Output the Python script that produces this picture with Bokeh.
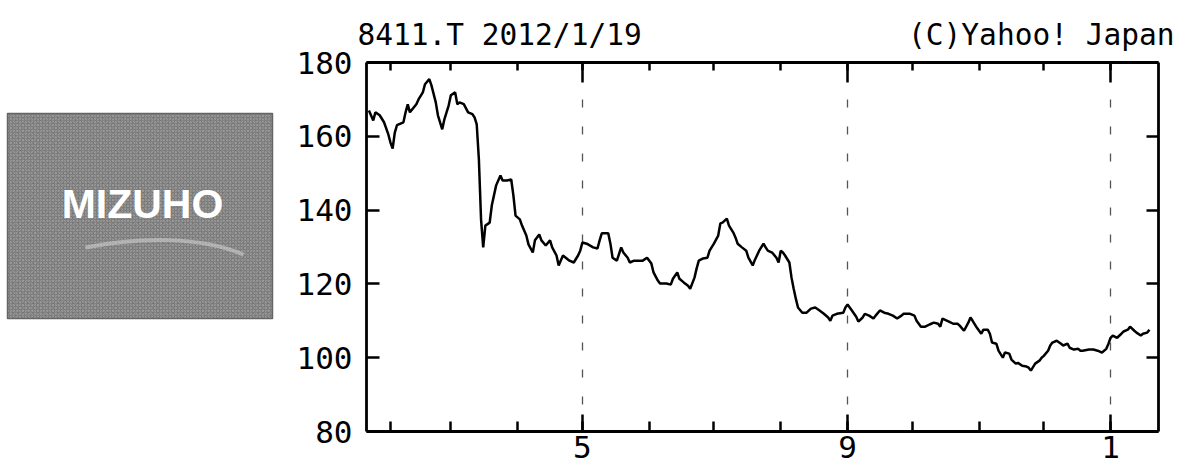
import pandas as pd
from bokeh.plotting import figure
from bokeh.models import (Range1d, FixedTicker, LinearAxis, Title, ColumnDataSource,
                          CustomLabelingPolicy)
from bokeh.layouts import row
from bokeh.embed import file_html
from bokeh.resources import INLINE
from bokeh.core.properties import value

# ---------------- data ----------------
ticker_symbol = "8411.T"
as_of = "2012/1/19"
credit = "(C)Yahoo! Japan"
logo_text = "MIZUHO"
start_date = "2011-01-19"

day_offsets = [
    3, 5, 6, 8, 10, 12, 13, 14, 15, 16, 19, 20, 21, 22, 25, 26, 28, 29, 31, 32,
    34, 35, 36, 37, 38, 40, 41, 43, 44, 45, 47, 49, 51, 52, 53, 54, 55, 56, 57, 59,
    60, 62, 64, 65, 67, 69, 70, 71, 73, 74, 76, 77, 79, 80, 82, 83, 85, 87, 88, 90,
    91, 93, 96, 98, 100, 101, 102, 104, 107, 109, 110, 111, 114, 115, 116, 118, 120, 121, 123, 124,
    126, 128, 130, 132, 134, 135, 137, 138, 141, 143, 144, 146, 147, 149, 151, 152, 154, 155, 156, 158,
    160, 161, 163, 165, 166, 167, 169, 170, 172, 173, 174, 176, 178, 179, 181, 182, 184, 186, 187, 188,
    190, 192, 193, 194, 195, 196, 198, 199, 200, 201, 202, 204, 206, 208, 210, 212, 214, 216, 217, 218,
    220, 223, 224, 225, 227, 229, 230, 232, 233, 235, 237, 238, 240, 242, 244, 246, 248, 250, 251, 254,
    256, 257, 259, 261, 263, 265, 267, 268, 269, 272, 274, 276, 277, 279, 281, 282, 283, 285, 287, 288,
    290, 291, 292, 294, 295, 297, 298, 300, 301, 303, 304, 306, 308, 309, 310, 312, 314, 315, 316, 318,
    319, 320, 322, 324, 325, 327, 328, 330, 332, 333, 334, 337, 339, 341, 343, 345, 346, 347, 348, 350,
    352, 353, 355, 356, 358, 359, 361, 362, 364, 365,
]

close_prices = [
    167.0, 164.3, 166.5, 165.7, 163.8, 160.5, 158.3, 156.7, 161.0, 163.0, 163.8, 166.5, 168.7, 166.5, 168.7, 170.0, 171.9, 174.1, 175.5, 173.8,
    169.2, 165.7, 163.8, 161.9, 164.6, 168.4, 171.1, 171.9, 168.7, 169.2, 168.7, 166.5, 166.0, 165.1, 163.2, 153.7, 137.5, 129.9, 135.8, 136.6,
    141.3, 146.7, 149.4, 148.0, 148.0, 148.3, 144.0, 138.5, 137.5, 135.8, 133.1, 130.7, 128.5, 131.8, 133.4, 131.8, 130.4, 131.8, 129.9, 127.7,
    125.0, 127.7, 126.3, 125.8, 127.7, 129.0, 131.2, 130.9, 129.9, 129.6, 131.8, 133.7, 133.7, 130.9, 127.1, 126.3, 129.9, 128.5, 127.1, 125.8,
    126.3, 126.3, 126.3, 127.1, 125.5, 123.1, 120.9, 120.1, 120.1, 119.8, 121.4, 123.1, 121.4, 120.4, 119.5, 118.7, 121.7, 124.2, 126.3, 126.9,
    127.1, 129.0, 130.9, 133.1, 136.4, 136.6, 137.7, 135.8, 133.9, 132.6, 130.9, 129.9, 129.0, 127.1, 125.0, 126.5, 129.0, 130.9, 129.9, 129.0,
    128.5, 127.1, 125.8, 129.0, 128.5, 127.7, 125.8, 121.7, 118.7, 116.0, 113.6, 112.2, 112.2, 113.3, 113.6, 112.8, 111.9, 110.9, 110.0, 111.4,
    111.9, 112.2, 113.6, 114.4, 112.8, 111.1, 109.8, 110.9, 111.9, 111.4, 110.6, 111.4, 112.8, 112.2, 111.9, 111.4, 110.6, 111.4, 111.9, 111.9,
    111.4, 110.0, 108.4, 108.4, 109.0, 109.5, 109.2, 108.4, 110.6, 109.8, 109.2, 109.2, 108.7, 107.3, 109.5, 110.9, 110.0, 108.1, 106.5, 107.6,
    107.6, 106.5, 104.1, 103.8, 101.9, 100.0, 101.4, 101.1, 99.5, 98.4, 98.6, 97.8, 97.6, 97.3, 96.5, 98.4, 99.2, 100.0, 100.5, 101.9,
    103.3, 104.1, 104.6, 103.8, 103.3, 103.8, 102.7, 102.2, 102.4, 101.9, 101.9, 102.2, 102.2, 101.9, 101.4, 102.4, 103.8, 105.4, 106.0, 105.4,
    106.5, 107.1, 107.6, 108.4, 107.3, 106.8, 106.0, 106.5, 106.8, 107.6,
]

y_ticks = [80, 100, 120, 140, 160, 180]
month_starts = ["2011-02-01", "2011-03-01", "2011-04-01", "2011-05-01", "2011-06-01", "2011-07-01",
                "2011-08-01", "2011-09-01", "2011-10-01", "2011-11-01", "2011-12-01", "2012-01-01"]
labeled_months = ["2011-05-01", "2011-09-01", "2012-01-01"]
month_labels = ["5", "9", "1"]

# ---------------- derived ----------------
dates = pd.Timestamp(start_date) + pd.to_timedelta(day_offsets, unit="D")
src = ColumnDataSource(dict(date=dates, close=close_prices))

def ms(s):
    return pd.Timestamp(s).value / 1e6

major_ms = [ms(s) for s in labeled_months]
minor_ms = [ms(s) for s in month_starts]
overrides = {m: lab for m, lab in zip(major_ms, month_labels)}

x_start = ms("2011-01-20 21:00")
x_end = ms("2012-01-23 05:00")

MONO = "DejaVu Sans Mono"
FIG_H = 472
BORDER_TOP = 62
BORDER_BOTTOM = 41

# ---------------- logo figure (page-pixel data space) ----------------
lp = figure(width=288, height=FIG_H, x_range=Range1d(0, 288), y_range=Range1d(FIG_H - BORDER_BOTTOM, BORDER_TOP),
            toolbar_location=None, output_backend="svg",
            x_axis_location=None, y_axis_location=None, min_border=0,
            min_border_top=BORDER_TOP, min_border_bottom=BORDER_BOTTOM)
lp.grid.visible = False
lp.outline_line_color = None
lp.background_fill_color = "white"
lp.border_fill_color = "white"
lp.quad(left=[7], right=[272], top=[113], bottom=[318], fill_color="#838383",
        line_color="#666666", line_width=1.5,
        hatch_pattern="dot", hatch_color="#cdcdcd", hatch_scale=3, hatch_alpha=0.7)
lp.quad(left=[7], right=[272], top=[113], bottom=[318], fill_color=None, line_color=None,
        hatch_pattern="x", hatch_color="#555555", hatch_scale=5, hatch_alpha=0.35, hatch_weight=0.8)
lp.bezier(x0=[85], y0=[247], x1=[243], y1=[254], cx0=[140], cy0=[236], cx1=[200], cy1=[236],
          line_color="#cfcfcf", line_width=4, line_alpha=0.6)
lp.text(x=[142], y=[203], text=[logo_text], text_align="center", text_baseline="middle",
        text_font=value("Liberation Sans"), text_font_style="bold",
        text_font_size="41px", text_color="white")

# ---------------- chart figure ----------------
p = figure(width=892, height=FIG_H, x_axis_type="datetime",
           x_range=Range1d(x_start, x_end), y_range=Range1d(80, 180),
           toolbar_location=None, output_backend="svg",
           min_border_left=78, min_border_right=22,
           min_border_top=BORDER_TOP, min_border_bottom=BORDER_BOTTOM)
p.background_fill_color = "white"
p.border_fill_color = "white"
p.outline_line_color = None
p.ygrid.visible = False

# header: one monospace line, left part and right part separated by non-breaking spaces
header = f"{ticker_symbol} {as_of}" + "\u00a0" * 15 + credit
p.title = Title(text=header, align="left", offset=-9, text_font=MONO,
                text_font_size="29.5px", text_font_style="normal", text_color="black",
                standoff=13)

p.xgrid.ticker = FixedTicker(ticks=major_ms)
p.xgrid.grid_line_color = "#555555"
p.xgrid.grid_line_dash = "8 19"
p.xgrid.grid_line_width = 1.3

hide_all = CustomLabelingPolicy(code="""
for (const i of indices)
    indices.unset(i)
""")

def style_axis(ax, tick_in, minor_in, labels):
    ax.axis_line_color = "black"
    ax.axis_line_width = 2.8
    ax.major_tick_line_color = "black"
    ax.major_tick_line_width = 2.5
    ax.major_tick_in = tick_in
    ax.major_tick_out = 0
    ax.minor_tick_line_color = "black"
    ax.minor_tick_line_width = 2.5
    ax.minor_tick_in = minor_in
    ax.minor_tick_out = 0
    if labels:
        ax.major_label_text_font = MONO
        ax.major_label_text_font_size = "31px"
        ax.major_label_text_color = "black"
    else:
        ax.major_label_policy = hide_all
        ax.major_label_text_font_size = "1px"
        ax.major_label_standoff = 0

# bottom axis
xa = p.xaxis[0]
xa.ticker = FixedTicker(ticks=major_ms, minor_ticks=minor_ms)
xa.major_label_overrides = overrides
style_axis(xa, 17, 10, True)
xa.major_label_standoff = 4

# left axis
ya = p.yaxis[0]
ya.ticker = FixedTicker(ticks=y_ticks)
style_axis(ya, 13, 0, True)
ya.major_label_standoff = 14

# top axis
ta = LinearAxis(ticker=FixedTicker(ticks=major_ms, minor_ticks=minor_ms))
style_axis(ta, 20, 8, False)
p.add_layout(ta, "above")

# right axis
ra = LinearAxis(ticker=FixedTicker(ticks=y_ticks))
style_axis(ra, 12, 0, False)
p.add_layout(ra, "right")

p.line("date", "close", source=src, line_color="black", line_width=2.5)

layout = row(lp, p)
open("out.html", "w").write(file_html(layout, INLINE))
